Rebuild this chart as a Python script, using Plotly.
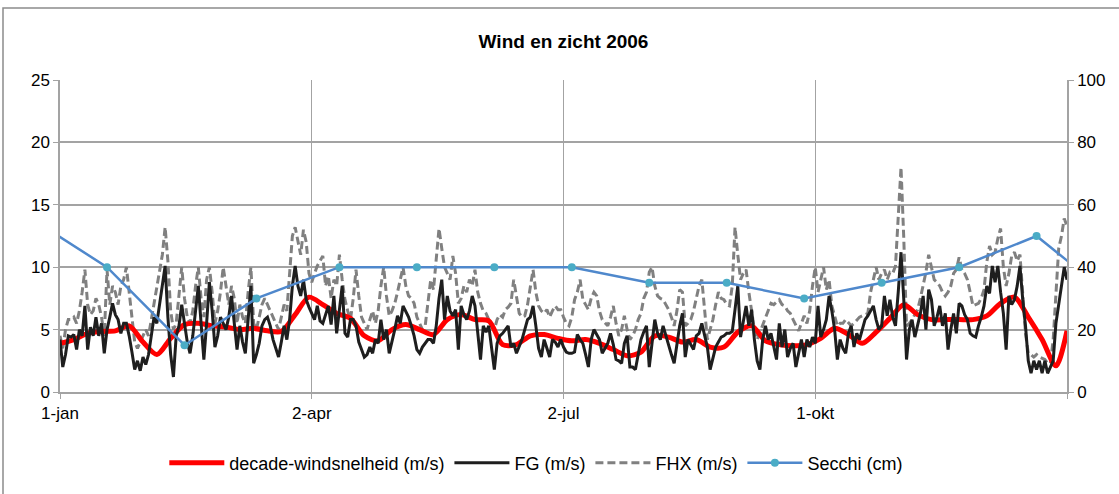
import pandas as pd
import plotly.graph_objects as go

# Daily wind speeds 2006 (m/s), 1 Jan .. 31 Dec
fg = [
    4.2, 2.0, 3.0, 4.5, 4.4, 4.6, 3.4, 5.0, 4.5, 6.9,
    3.4, 5.2, 4.5, 6.0, 4.5, 5.5, 3.1, 5.0, 6.0, 7.1,
    6.2, 5.8, 4.7, 5.5, 5.5, 4.5, 3.2, 1.8, 2.5, 1.7,
    2.8, 2.2, 3.0, 4.5, 6.0, 5.5, 7.0, 8.5, 10.1, 6.0,
    3.0, 1.2, 4.5, 5.3, 7.0, 5.5, 4.0, 3.1, 4.5, 6.5,
    8.5, 5.5, 2.6, 5.5, 8.8, 6.5, 3.6, 4.5, 6.0, 5.5,
    5.0, 6.0, 7.7, 5.5, 3.4, 5.3, 4.0, 3.1, 6.0, 8.5,
    2.3, 3.0, 3.9, 5.3, 5.8, 6.0, 5.3, 4.2, 3.5, 2.8,
    4.0, 5.3, 4.2, 5.8, 8.5, 10.1, 8.5, 7.7, 9.0, 7.4,
    6.8, 6.3, 5.8, 6.9, 5.7, 5.5, 6.3, 6.9, 5.4, 7.7,
    4.7, 6.5, 8.5, 4.7, 4.4, 5.8, 5.8, 5.3, 4.0, 3.4,
    2.8, 3.0, 3.6, 3.1, 4.2, 3.9, 5.8, 4.2, 5.0, 3.1,
    4.0, 5.0, 6.1, 5.5, 6.9, 6.5, 6.0, 5.3, 4.5, 3.4,
    3.1, 3.6, 3.9, 4.2, 4.2, 3.9, 5.3, 7.5, 9.0, 5.8,
    7.7, 6.5, 6.1, 6.6, 3.4, 6.9, 6.2, 5.8, 6.5, 7.7,
    6.9, 4.5, 2.6, 5.3, 4.8, 5.3, 3.5, 1.8, 3.9, 4.5,
    4.7, 5.0, 5.3, 3.6, 3.9, 3.1, 3.6, 4.2, 5.0, 5.8,
    6.0, 6.9, 5.3, 3.5, 2.8, 4.2, 3.5, 2.8, 4.2, 4.0,
    3.6, 4.2, 3.6, 3.2, 3.1, 3.1, 3.2, 4.6, 4.2, 3.9,
    3.0, 2.0, 4.2, 5.0, 4.6, 4.2, 3.1, 3.5, 3.9, 4.7,
    3.8, 2.6, 2.5, 2.3, 3.9, 4.5, 2.0, 2.0, 1.8, 3.0,
    4.2, 4.8, 5.3, 2.0, 4.0, 5.8, 4.7, 4.2, 5.3, 4.5,
    3.6, 3.0, 2.3, 4.0, 5.3, 6.3, 2.8, 4.2, 3.8, 3.4,
    4.5, 4.7, 5.5, 4.5, 3.6, 1.8, 2.8, 3.6, 4.0, 4.4,
    4.5, 4.7, 4.7, 4.85, 6.6, 8.5, 4.4, 5.5, 6.9, 5.3,
    6.6, 4.2, 2.5, 1.8, 4.2, 5.3, 4.2, 4.7, 3.5, 2.6,
    5.5, 3.6, 5.0, 2.8, 3.5, 3.9, 2.0, 3.0, 4.2, 2.8,
    4.2, 3.6, 4.4, 3.9, 6.9, 4.4, 5.0, 5.8, 7.7, 6.5,
    5.0, 2.6, 4.2, 3.5, 3.1, 4.7, 5.3, 3.6, 4.7, 4.2,
    5.0, 5.8, 6.1, 6.5, 6.9, 5.8, 5.0, 5.3, 7.7, 6.1,
    7.4, 6.0, 5.3, 8.0, 11.2, 7.4, 2.6, 5.0, 5.8, 4.4,
    5.5, 6.3, 7.7, 5.0, 8.2, 7.4, 5.3, 6.0, 6.9, 5.3,
    6.3, 3.4, 5.0, 6.3, 4.7, 7.1, 6.9, 6.2, 5.8, 4.7,
    4.5, 4.4, 5.3, 6.0, 6.9, 8.5, 7.9, 10.1, 8.8, 10.1,
    8.0, 6.3, 3.4, 7.7, 7.0, 7.4, 8.5, 10.1, 7.4, 5.3,
    2.5, 1.5, 2.5, 1.8, 2.5, 1.5, 2.5, 1.5, 2.0, 2.5,
    5.5, 7.0, 8.2, 10.0, 9.0,
]

fhx = [
    4.5, 3.5, 5.0, 5.8, 5.8, 6.0, 5.5, 6.5, 8.0, 9.8,
    7.0, 6.2, 6.5, 7.5, 7.0, 6.0, 4.5, 9.8, 7.0, 8.5,
    8.0, 7.0, 8.5, 9.0, 10.0, 8.0, 6.0, 4.0, 3.5, 4.0,
    4.5, 5.0, 4.5, 5.8, 7.0, 8.5, 9.5, 11.0, 13.2, 10.5,
    6.5, 5.0, 5.5, 7.5, 10.0, 7.5, 6.0, 5.5, 6.5, 8.5,
    10.0, 7.5, 6.0, 9.0, 10.0, 8.0, 5.5, 6.5, 8.0, 10.0,
    8.5, 7.0, 8.5, 7.5, 5.5, 7.0, 6.0, 5.5, 8.0, 10.0,
    5.5, 5.0, 6.0, 7.0, 7.5, 7.0, 6.5, 6.0, 5.5, 5.0,
    6.0, 7.0, 6.5, 9.5, 12.5, 13.2, 12.0, 11.0, 13.0, 12.0,
    9.5, 8.8, 9.5, 10.1, 10.5, 10.9, 8.5, 9.3, 7.5, 9.0,
    8.5, 11.0, 9.0, 7.4, 6.5, 5.8, 7.5, 9.8, 7.7, 6.0,
    5.5, 5.0, 5.8, 6.5, 5.5, 6.5, 8.5, 10.0, 7.7, 6.1,
    6.5, 7.1, 8.0, 9.0, 10.0, 8.5, 7.7, 7.5, 7.1, 6.0,
    5.5, 5.0, 5.3, 7.0, 9.0, 8.2, 11.0, 13.1, 11.5, 10.0,
    9.5, 9.0, 10.9, 9.5, 7.1, 7.5, 8.5, 8.0, 9.0, 8.5,
    9.8, 8.0, 7.1, 6.5, 6.3, 5.8, 5.5, 5.0, 5.8, 6.2,
    6.0, 6.6, 6.8, 7.1, 9.0, 7.5, 6.3, 6.0, 6.1, 7.0,
    8.5, 9.8, 8.0, 6.9, 6.5, 6.3, 6.6, 6.0, 6.5, 6.9,
    6.6, 6.6, 6.0, 5.5, 5.3, 6.0, 7.4, 8.0, 9.0, 7.4,
    7.0, 6.6, 7.5, 8.0, 7.7, 6.5, 5.8, 5.5, 5.3, 6.0,
    6.9, 5.5, 4.5, 5.0, 6.1, 5.0, 4.2, 4.5, 5.0, 5.8,
    6.3, 7.5, 8.0, 9.6, 10.0, 8.5, 7.7, 7.5, 7.4, 7.0,
    6.6, 6.0, 5.3, 6.5, 8.2, 8.0, 5.3, 5.5, 5.8, 6.5,
    7.4, 8.5, 9.0, 6.5, 4.2, 5.0, 5.8, 7.0, 8.0, 7.5,
    7.4, 7.0, 6.9, 8.5, 13.2, 11.0, 9.0, 9.5, 9.8, 8.0,
    6.3, 5.0, 4.2, 4.8, 5.3, 6.0, 6.6, 7.1, 7.0, 7.2,
    7.4, 7.0, 6.9, 6.5, 6.3, 5.8, 5.3, 4.9, 5.5, 6.1,
    5.5, 6.5, 8.5, 10.0, 8.0, 9.0, 10.0, 8.2, 9.0, 6.9,
    6.0, 5.3, 5.5, 5.5, 5.8, 5.5, 5.3, 5.5, 5.8, 6.0,
    6.1, 6.2, 6.3, 8.0, 9.0, 10.0, 9.0, 9.5, 9.8, 9.0,
    9.6, 9.5, 10.1, 14.0, 18.0, 12.3, 5.3, 5.5, 5.8, 6.2,
    6.6, 7.5, 8.5, 9.6, 11.0, 10.1, 9.0, 8.8, 8.5, 8.0,
    7.7, 8.0, 8.5, 9.5, 9.8, 10.8, 9.8, 9.5, 9.0, 8.0,
    6.9, 7.0, 7.1, 7.5, 8.2, 10.4, 11.7, 11.0, 11.2, 12.3,
    13.1, 10.0, 8.5, 9.5, 10.9, 11.2, 10.5, 11.0, 8.0, 4.7,
    3.1, 3.0, 2.8, 3.0, 2.8, 2.7, 2.6, 2.3, 2.3, 4.2,
    7.7, 11.5, 12.5, 13.9, 13.3,
]

# Decade (10-day) wind speed, sampled every 5 days (m/s)
decade_dates = [
    "2006-01-01", "2006-01-06", "2006-01-11", "2006-01-16", "2006-01-21",
    "2006-01-26", "2006-01-31", "2006-02-05", "2006-02-10", "2006-02-15",
    "2006-02-20", "2006-02-25", "2006-03-02", "2006-03-07", "2006-03-12",
    "2006-03-17", "2006-03-22", "2006-03-27", "2006-04-01", "2006-04-06",
    "2006-04-11", "2006-04-16", "2006-04-21", "2006-04-26", "2006-05-01",
    "2006-05-06", "2006-05-11", "2006-05-16", "2006-05-21", "2006-05-26",
    "2006-05-31", "2006-06-05", "2006-06-10", "2006-06-15", "2006-06-20",
    "2006-06-25", "2006-06-30", "2006-07-05", "2006-07-10", "2006-07-15",
    "2006-07-20", "2006-07-25", "2006-07-30", "2006-08-04", "2006-08-09",
    "2006-08-14", "2006-08-19", "2006-08-24", "2006-08-29", "2006-09-03",
    "2006-09-08", "2006-09-13", "2006-09-18", "2006-09-23", "2006-09-28",
    "2006-10-03", "2006-10-08", "2006-10-13", "2006-10-18", "2006-10-23",
    "2006-10-28", "2006-11-02", "2006-11-07", "2006-11-12", "2006-11-17",
    "2006-11-22", "2006-11-27", "2006-12-02", "2006-12-07", "2006-12-12",
    "2006-12-17", "2006-12-22", "2006-12-27", "2006-12-31",
]
decade = [
    3.9, 4.2, 4.7, 4.85, 4.9,
    5.3, 4.0, 3.0, 4.3, 5.4,
    5.5, 5.3, 5.2, 5.0, 5.1,
    4.9, 4.85, 6.2, 7.6, 7.0,
    6.3, 5.9, 4.5, 4.1, 5.0,
    5.4, 5.0, 4.6, 5.8, 6.2,
    5.8, 5.7, 3.8, 3.8, 4.5,
    4.6, 4.3, 4.1, 4.2, 3.9,
    3.4, 2.9, 3.2, 4.5, 4.4,
    4.0, 4.2, 3.6, 3.6, 4.8,
    5.3, 4.1, 3.8, 3.7, 3.8,
    4.3, 5.1, 4.6, 3.9, 4.8,
    5.9, 7.0, 6.2, 5.8, 5.8,
    5.8, 5.8, 6.1, 7.1, 7.6,
    6.0, 4.2, 2.1, 4.9,
]

# Secchi depth (cm); the outer two readings fall just outside 2006
secchi_dates = [
    "2005-12-21", "2006-01-18", "2006-02-15", "2006-03-13", "2006-04-12",
    "2006-05-10", "2006-06-07", "2006-07-05", "2006-08-02", "2006-08-30",
    "2006-09-27", "2006-10-25", "2006-11-22", "2006-12-20", "2007-01-17",
]
secchi = [56, 40, 15, 30, 40, 40, 40, 40, 35, 35, 30, 35, 40, 50, 30]

tick_dates = ["2006-01-01", "2006-04-02", "2006-07-02", "2006-10-01", "2006-12-31"]
tick_labels = ["1-jan", "2-apr", "2-jul", "1-okt", ""]

fg_dates = pd.date_range("2006-01-01", periods=len(fg), freq="D")
fhx_dates = pd.date_range("2006-01-01", periods=len(fhx), freq="D")

FONT = "Liberation Sans, Arial, sans-serif"
GRID = "#a3a3a3"

fig = go.Figure()

fig.add_trace(go.Scatter(
    x=fhx_dates, y=fhx, name="FHX (m/s)", mode="lines",
    line=dict(color="#808080", width=3, dash="8px,4px"), legendrank=3,
))
fig.add_trace(go.Scatter(
    x=decade_dates, y=decade, name="decade-windsnelheid (m/s)", mode="lines",
    line=dict(color="#ff0000", width=5, shape="spline", smoothing=0.8), legendrank=1,
))
fig.add_trace(go.Scatter(
    x=fg_dates, y=fg, name="FG (m/s)", mode="lines",
    line=dict(color="#1e1e1e", width=3), legendrank=2,
))
fig.add_trace(go.Scatter(
    x=secchi_dates, y=secchi, name="Secchi (cm)", mode="lines+markers",
    line=dict(color="#4f88cc", width=2.5),
    marker=dict(color="#4bacc6", size=8), yaxis="y2", legendrank=4,
))

axis_common = dict(
    showline=True, linecolor=GRID, linewidth=1.5,
    ticks="outside", ticklen=5, tickcolor=GRID,
    zeroline=False, tickfont=dict(size=17, family=FONT),
)

fig.update_layout(
    width=1119, height=494,
    margin=dict(l=60, r=52, t=80, b=102),
    paper_bgcolor="white", plot_bgcolor="white",
    font=dict(family=FONT, size=17, color="#000000"),
    title=dict(
        text="<b>Wind en zicht 2006</b>", x=0.5, xref="paper",
        y=1 - 41 / 494, yanchor="middle", font=dict(size=19, family=FONT),
    ),
    showlegend=True,
    legend=dict(
        orientation="h", x=0.473, xanchor="center", y=-0.228, yanchor="middle",
        font=dict(size=18, family=FONT), bgcolor="rgba(0,0,0,0)",
        traceorder="normal", itemwidth=55,
    ),
    xaxis=dict(
        type="date", range=["2006-01-01", "2006-12-31"],
        tickmode="array", tickvals=tick_dates, ticktext=tick_labels,
        showgrid=True, gridcolor=GRID, gridwidth=1, **axis_common,
    ),
    yaxis=dict(
        range=[0, 25], dtick=5, showgrid=True, gridcolor=GRID, gridwidth=1.5,
        **axis_common,
    ),
    yaxis2=dict(
        range=[0, 100], dtick=20, overlaying="y", side="right", showgrid=False,
        **axis_common,
    ),
    shapes=[dict(
        type="rect", xref="paper", yref="paper",
        x0=(3 - 60) / 1007, x1=(1130 - 60) / 1007,
        y0=(392 - 510) / 312, y1=1 + (80 - 8) / 312,
        line=dict(color="#8c8c8c", width=1.5), fillcolor="rgba(0,0,0,0)",
        layer="below",
    )],
)

fig.write_html("out.html")
